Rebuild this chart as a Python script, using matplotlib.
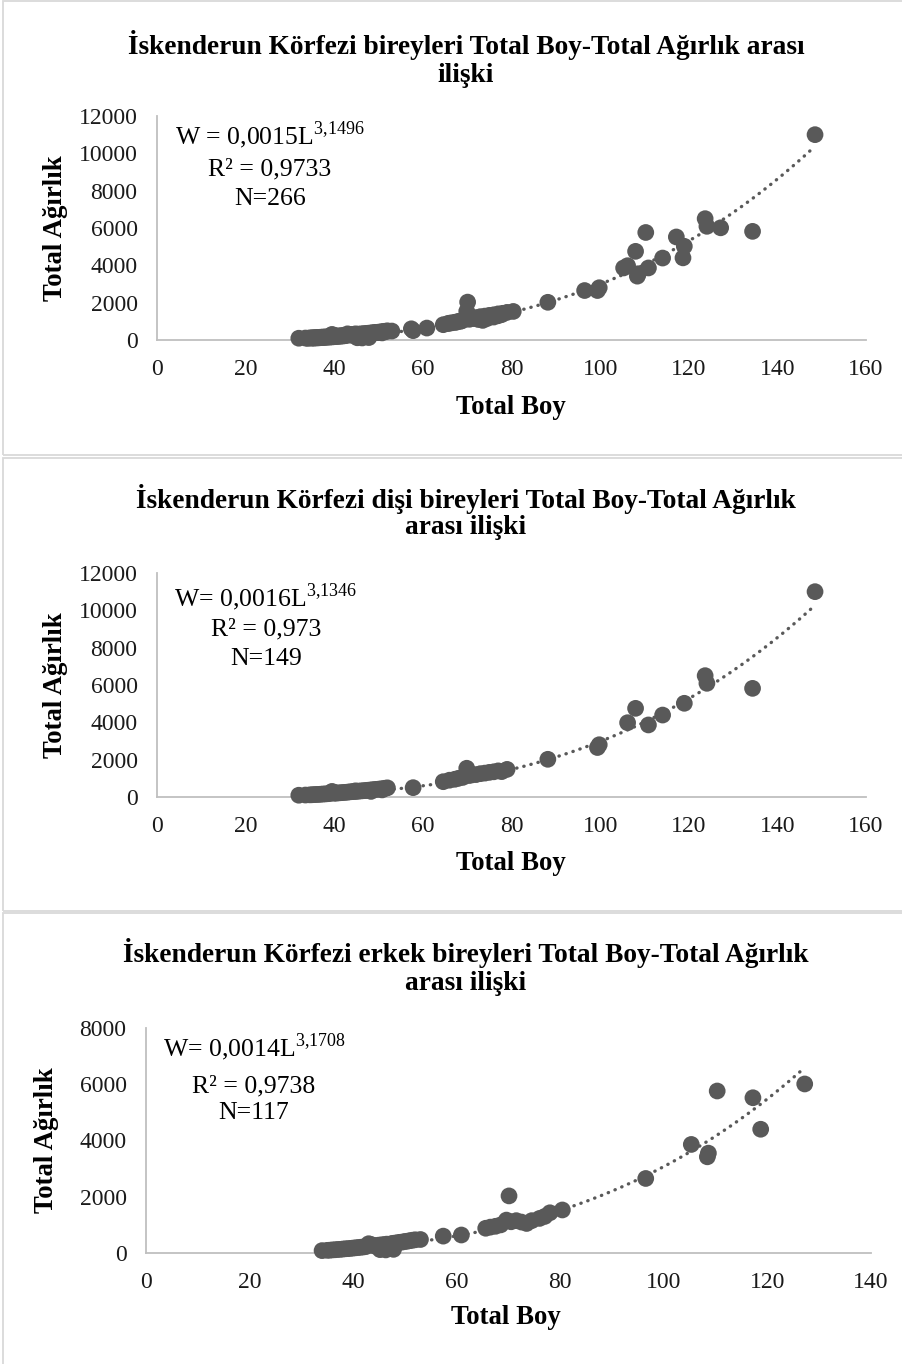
import numpy as np
import matplotlib
matplotlib.use("Agg")
import matplotlib.pyplot as plt
from matplotlib.patches import Rectangle

plt.rcParams['font.family'] = ['Liberation Serif', 'DejaVu Serif']
plt.rcParams['mathtext.fontset'] = 'custom'
plt.rcParams['mathtext.rm'] = 'Liberation Serif'

# dişi (female) bireyler - Total Boy / Total Ağırlık
female_len = [32.0, 33.5, 34.5, 35.0, 35.5, 36.0, 36.5, 37.0, 37.5, 38.0, 38.5, 39.0, 39.5, 40.0,
              40.2, 40.5, 41.0, 41.5, 42.0, 42.5, 43.0, 43.5, 44.0, 44.5, 44.8, 45.0, 45.5, 46.0,
              46.5, 47.0, 47.5, 48.0, 48.3, 48.5, 49.0, 49.5, 50.0, 50.5, 50.8, 51.0, 51.5, 52.0,
              57.8, 64.6, 66.0, 67.2, 68.0, 69.0, 69.9, 70.4, 71.0, 72.0, 73.0, 74.0, 75.0, 76.0,
              77.0, 77.8, 79.0, 88.2, 99.4, 99.8, 106.2, 108.0, 110.9, 114.1, 119.0, 123.7, 124.1,
              134.4, 148.5]
female_wt = [95, 105, 115, 120, 130, 135, 140, 150, 160, 165, 175, 185, 300, 200,
             230, 210, 220, 230, 240, 250, 260, 275, 285, 295, 330, 300, 315, 325,
             335, 345, 360, 370, 300, 385, 395, 410, 420, 435, 380, 445, 470, 490,
             500, 820, 900, 950, 1000, 1050, 1540, 1150, 1180, 1200, 1250, 1280, 1320, 1350,
             1400, 1360, 1480, 2020, 2650, 2800, 3980, 4750, 3860, 4390, 5020, 6500, 6090,
             5820, 11000]

# erkek (male) bireyler
male_len = [34.0, 35.0, 35.5, 36.0, 36.5, 37.0, 37.5, 38.0, 38.5, 39.0, 39.5, 40.0, 40.5, 41.0,
            41.5, 42.0, 42.5, 43.0, 43.5, 44.0, 44.5, 45.0, 45.2, 45.5, 46.0, 46.3, 46.5, 47.0,
            47.5, 47.8, 48.0, 48.5, 49.0, 49.5, 50.0, 50.5, 51.0, 51.5, 52.0, 53.0,
            57.4, 60.9, 65.6, 66.5, 67.5, 68.5, 69.6, 70.1, 70.5, 71.5, 72.5, 73.5, 74.5, 76.0,
            77.0, 78.0, 80.4, 96.5, 105.3, 108.4, 108.6, 110.3, 117.2, 118.7, 127.2]
male_wt = [85, 95, 100, 110, 115, 125, 130, 140, 150, 155, 165, 175, 185, 195,
           205, 215, 230, 330, 300, 255, 265, 280, 120, 290, 300, 110, 315, 240,
           340, 130, 350, 365, 380, 390, 410, 420, 440, 455, 470, 480,
           600, 640, 880, 920, 950, 1000, 1170, 2030, 1110, 1150, 1100, 1050, 1150, 1230,
           1300, 1430, 1530, 2650, 3860, 3420, 3550, 5760, 5520, 4400, 6010]

# power trendlines (W = a L^b) as given on the chart
fit_all = (0.0015, 3.1496)
fit_female = (0.0016, 3.1346)
fit_male = (0.0014, 3.1708)

all_len = female_len + male_len
all_wt = female_wt + male_wt

W, H = 902, 1364
fig = plt.figure(figsize=(W / 100, H / 100), dpi=100)
fig.patch.set_facecolor('white')


def fx(px):
    return px / W


def fy(py):
    return 1 - py / H


gray = '#595959'
axis_gray = '#bfbfbf'

panels = [
    dict(x=all_len, y=all_wt, fit=fit_all, xmax=160, ymax=12000,
         box=(157, 340, 866, 116),
         title=['İskenderun Körfezi bireyleri Total Boy-Total Ağırlık arası', 'ilişki'],
         title_y=(45, 76), title_x=466,
         eq=['W = 0,0015L$^{\\mathrm{3{,}1496}}$', 'R² = 0,9733', 'N=266'],
         eq_x=270, eq_y=(135, 169, 199),
         xl=(511, 408), yl=(55, 228)),
    dict(x=female_len, y=female_wt, fit=fit_female, xmax=160, ymax=12000,
         box=(157, 797, 866, 573),
         title=['İskenderun Körfezi dişi bireyleri Total Boy-Total Ağırlık', 'arası ilişki'],
         title_y=(499, 528), title_x=466,
         eq=['W= 0,0016L$^{\\mathrm{3{,}1346}}$', 'R² = 0,973', 'N=149'],
         eq_x=266, eq_y=(597, 629, 659),
         xl=(511, 863), yl=(55, 685)),
    dict(x=male_len, y=male_wt, fit=fit_male, xmax=140, ymax=8000,
         box=(146, 1253, 871, 1028),
         title=['İskenderun Körfezi erkek bireyleri Total Boy-Total Ağırlık', 'arası ilişki'],
         title_y=(953, 983), title_x=466,
         eq=['W= 0,0014L$^{\\mathrm{3{,}1708}}$', 'R² = 0,9738', 'N=117'],
         eq_x=254, eq_y=(1047, 1086, 1113),
         xl=(506, 1318), yl=(47, 1140)),
]

for p in panels:
    x0, y0, x1, y1 = p['box']
    ax = fig.add_axes([fx(x0), fy(y0), (x1 - x0) / W, (y0 - y1) / H])
    ax.set_facecolor('none')
    ax.scatter(p['x'], p['y'], s=145, color=gray, edgecolors='none', zorder=3, clip_on=False)

    a, b = p['fit']
    lx = np.linspace(min(p['x']), max(p['x']), 200)
    ax.plot(lx, a * lx ** b, color=gray, lw=2.4, linestyle=(0, (0.1, 2.1)),
            dash_capstyle='round', zorder=4)

    ax.set_xlim(0, p['xmax'])
    ax.set_ylim(0, p['ymax'])
    ax.set_xticks(np.arange(0, p['xmax'] + 1, 20))
    ax.set_yticks(np.arange(0, p['ymax'] + 1, 2000))
    ax.tick_params(length=0, labelsize=17, labelcolor='#1a1a1a', pad=14)
    for s in ['top', 'right']:
        ax.spines[s].set_visible(False)
    for s in ['left', 'bottom']:
        ax.spines[s].set_color(axis_gray)
        ax.spines[s].set_linewidth(1.3)

    for line, ty in zip(p['title'], p['title_y']):
        fig.text(fx(p['title_x']), fy(ty), line, ha='center', va='center',
                 fontsize=19.7, fontweight='bold')
    for line, ey in zip(p['eq'], p['eq_y']):
        fig.text(fx(p['eq_x']), fy(ey), line, ha='center', va='center', fontsize=18.5)
    fig.text(fx(p['xl'][0]), fy(p['xl'][1]), 'Total Boy', ha='center', va='center',
             fontsize=19.3, fontweight='bold')
    fig.text(fx(p['yl'][0]), fy(p['yl'][1]), 'Total Ağırlık', ha='center', va='center',
             fontsize=19.3, fontweight='bold', rotation=90)

# chart area borders
for top, bottom in [(1, 455), (458, 911), (913, 1366)]:
    fig.add_artist(Rectangle((fx(3), fy(bottom)), (W + 5 - 3) / W, (bottom - top) / H,
                             transform=fig.transFigure, fill=False, edgecolor='#d9d9d9',
                             lw=1.3, clip_on=False))

fig.savefig('out.png', dpi=100, facecolor='white')
